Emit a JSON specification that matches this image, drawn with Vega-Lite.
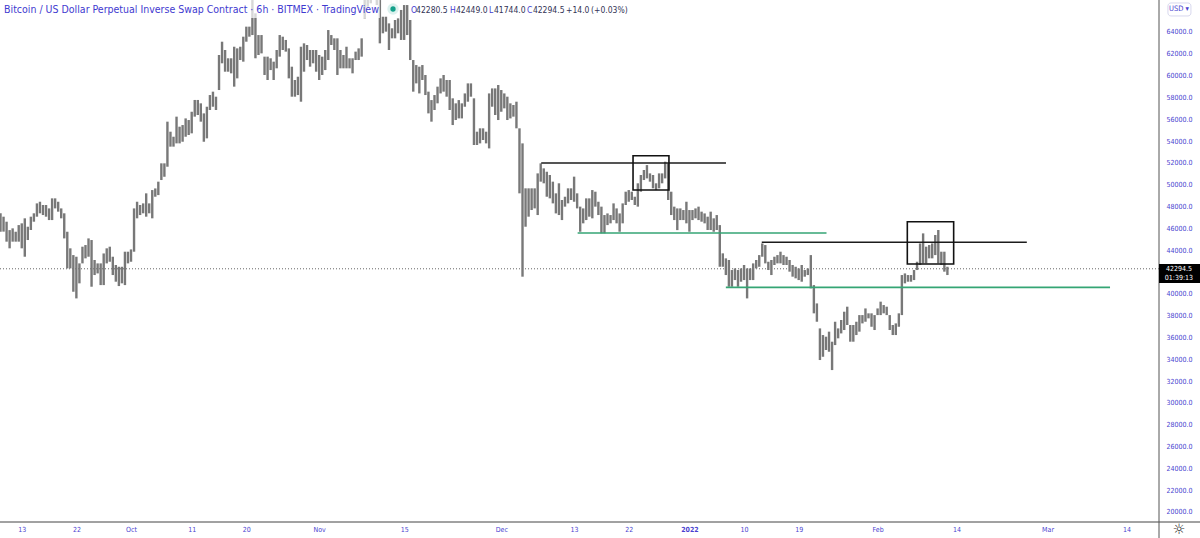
{
"$schema":"https://vega.github.io/schema/vega-lite/v6.json",
"width":1159,"height":522,
"autosize":"none",
"padding":{"left":0,"top":0,"right":41,"bottom":16},
"background":"white",
"config":{"view":{"stroke":null},"axis":{"grid":false},"text":{"font":"DejaVu Sans Condensed"}},
"datasets":{
"bars":[
{"t":"2021-09-09T12:00Z","h":47380,"l":45700},{"t":"2021-09-10T00:00Z","h":47070,"l":45700},{"t":"2021-09-10T12:00Z","h":46610,"l":44780},{"t":"2021-09-11T00:00Z","h":45840,"l":44170},{"t":"2021-09-11T12:00Z","h":46000,"l":44780},{"t":"2021-09-12T00:00Z","h":45690,"l":44780},{"t":"2021-09-12T12:00Z","h":46300,"l":44780},{"t":"2021-09-13T00:00Z","h":46460,"l":44170},{"t":"2021-09-13T12:00Z","h":46920,"l":43400},{"t":"2021-09-14T00:00Z","h":46150,"l":44930},
{"t":"2021-09-14T12:00Z","h":47070,"l":45850},{"t":"2021-09-15T00:00Z","h":47380,"l":46610},{"t":"2021-09-15T12:00Z","h":48290,"l":47070},{"t":"2021-09-16T00:00Z","h":48440,"l":47380},{"t":"2021-09-16T12:00Z","h":48140,"l":47220},{"t":"2021-09-17T00:00Z","h":48140,"l":47070},{"t":"2021-09-17T12:00Z","h":47830,"l":46760},{"t":"2021-09-18T00:00Z","h":48750,"l":46760},{"t":"2021-09-18T12:00Z","h":48750,"l":47830},{"t":"2021-09-19T00:00Z","h":48440,"l":47530},
{"t":"2021-09-19T12:00Z","h":47830,"l":46920},{"t":"2021-09-20T00:00Z","h":47380,"l":45080},{"t":"2021-09-20T12:00Z","h":45690,"l":42330},{"t":"2021-09-21T00:00Z","h":44170,"l":42330},{"t":"2021-09-21T12:00Z","h":43550,"l":40190},{"t":"2021-09-22T00:00Z","h":43400,"l":39580},{"t":"2021-09-22T12:00Z","h":42790,"l":40960},{"t":"2021-09-23T00:00Z","h":44320,"l":42790},{"t":"2021-09-23T12:00Z","h":44470,"l":43250},{"t":"2021-09-24T00:00Z","h":45080,"l":43400},
{"t":"2021-09-24T12:00Z","h":44930,"l":40650},{"t":"2021-09-25T00:00Z","h":43100,"l":41720},{"t":"2021-09-25T12:00Z","h":42790,"l":41870},{"t":"2021-09-26T00:00Z","h":42790,"l":40800},{"t":"2021-09-26T12:00Z","h":43700,"l":40800},{"t":"2021-09-27T00:00Z","h":44170,"l":42790},{"t":"2021-09-27T12:00Z","h":44320,"l":42940},{"t":"2021-09-28T00:00Z","h":43400,"l":41720},{"t":"2021-09-28T12:00Z","h":42640,"l":41110},{"t":"2021-09-29T00:00Z","h":42480,"l":40710},
{"t":"2021-09-29T12:00Z","h":42480,"l":40960},{"t":"2021-09-30T00:00Z","h":43860,"l":40800},{"t":"2021-09-30T12:00Z","h":43860,"l":42790},{"t":"2021-10-01T00:00Z","h":44070,"l":42940},{"t":"2021-10-01T12:00Z","h":47830,"l":43860},{"t":"2021-10-02T00:00Z","h":48440,"l":46920},{"t":"2021-10-02T12:00Z","h":48140,"l":47220},{"t":"2021-10-03T00:00Z","h":48290,"l":47380},{"t":"2021-10-03T12:00Z","h":49210,"l":47070},{"t":"2021-10-04T00:00Z","h":48290,"l":47380},
{"t":"2021-10-04T12:00Z","h":49510,"l":46920},{"t":"2021-10-05T00:00Z","h":49660,"l":48900},{"t":"2021-10-05T12:00Z","h":50280,"l":49050},{"t":"2021-10-06T00:00Z","h":51960,"l":50430},{"t":"2021-10-06T12:00Z","h":51960,"l":50730},{"t":"2021-10-07T00:00Z","h":55780,"l":51650},{"t":"2021-10-07T12:00Z","h":54860,"l":53490},{"t":"2021-10-08T00:00Z","h":54400,"l":53490},{"t":"2021-10-08T12:00Z","h":56240,"l":53790},{"t":"2021-10-09T00:00Z","h":55320,"l":53790},
{"t":"2021-10-09T12:00Z","h":55470,"l":53940},{"t":"2021-10-10T00:00Z","h":56080,"l":54400},{"t":"2021-10-10T12:00Z","h":55930,"l":54560},{"t":"2021-10-11T00:00Z","h":56690,"l":54710},{"t":"2021-10-11T12:00Z","h":57770,"l":56240},{"t":"2021-10-12T00:00Z","h":57770,"l":56390},{"t":"2021-10-12T12:00Z","h":57460,"l":55780},{"t":"2021-10-13T00:00Z","h":56540,"l":53940},{"t":"2021-10-13T12:00Z","h":57150,"l":54250},{"t":"2021-10-14T00:00Z","h":58220,"l":56850},
{"t":"2021-10-14T12:00Z","h":58530,"l":57150},{"t":"2021-10-15T00:00Z","h":58070,"l":56850},{"t":"2021-10-15T12:00Z","h":61890,"l":58680},{"t":"2021-10-16T00:00Z","h":63110,"l":61130},{"t":"2021-10-16T12:00Z","h":62350,"l":60360},{"t":"2021-10-17T00:00Z","h":61590,"l":60360},{"t":"2021-10-17T12:00Z","h":61590,"l":60210},{"t":"2021-10-18T00:00Z","h":62650,"l":58990},{"t":"2021-10-18T12:00Z","h":62500,"l":59750},{"t":"2021-10-19T00:00Z","h":62650,"l":61430},
{"t":"2021-10-19T12:00Z","h":63570,"l":61280},{"t":"2021-10-20T00:00Z","h":64490,"l":63110},{"t":"2021-10-20T12:00Z","h":64490,"l":63570},{"t":"2021-10-21T00:00Z","h":66930,"l":63720},{"t":"2021-10-21T12:00Z","h":65710,"l":61590},{"t":"2021-10-22T00:00Z","h":63720,"l":61890},{"t":"2021-10-22T12:00Z","h":63720,"l":62040},{"t":"2021-10-23T00:00Z","h":61740,"l":60060},{"t":"2021-10-23T12:00Z","h":61740,"l":59600},{"t":"2021-10-24T00:00Z","h":61590,"l":60510},
{"t":"2021-10-24T12:00Z","h":61280,"l":59600},{"t":"2021-10-25T00:00Z","h":62350,"l":60670},{"t":"2021-10-25T12:00Z","h":63720,"l":61740},{"t":"2021-10-26T00:00Z","h":63570,"l":62350},{"t":"2021-10-26T12:00Z","h":63270,"l":62200},{"t":"2021-10-27T00:00Z","h":62500,"l":59750},{"t":"2021-10-27T12:00Z","h":60820,"l":58070},{"t":"2021-10-28T00:00Z","h":59600,"l":58070},{"t":"2021-10-28T12:00Z","h":59900,"l":58220},{"t":"2021-10-29T00:00Z","h":62650,"l":57610},
{"t":"2021-10-29T12:00Z","h":62960,"l":60360},{"t":"2021-10-30T00:00Z","h":62810,"l":61430},{"t":"2021-10-30T12:00Z","h":62350,"l":60820},{"t":"2021-10-31T00:00Z","h":62350,"l":61130},{"t":"2021-10-31T12:00Z","h":62350,"l":60360},{"t":"2021-11-01T00:00Z","h":61890,"l":59600},{"t":"2021-11-01T12:00Z","h":61740,"l":60060},{"t":"2021-11-02T00:00Z","h":62350,"l":60510},{"t":"2021-11-02T12:00Z","h":64180,"l":61430},{"t":"2021-11-03T00:00Z","h":63720,"l":62810},
{"t":"2021-11-03T12:00Z","h":63420,"l":62350},{"t":"2021-11-04T00:00Z","h":63420,"l":60060},{"t":"2021-11-04T12:00Z","h":62350,"l":60670},{"t":"2021-11-05T00:00Z","h":61890,"l":60670},{"t":"2021-11-05T12:00Z","h":62650,"l":60670},{"t":"2021-11-06T00:00Z","h":61590,"l":60670},{"t":"2021-11-06T12:00Z","h":61590,"l":60210},{"t":"2021-11-07T00:00Z","h":62200,"l":61430},{"t":"2021-11-07T12:00Z","h":62500,"l":61430},{"t":"2021-11-08T00:00Z","h":63420,"l":61740},
{"t":"2021-11-08T12:00Z","h":67090,"l":65250},{"t":"2021-11-09T00:00Z","h":68150,"l":66320},{"t":"2021-11-09T12:00Z","h":68460,"l":66630},{"t":"2021-11-10T00:00Z","h":68460,"l":67240},{"t":"2021-11-10T12:00Z","h":68150,"l":66470},{"t":"2021-11-11T00:00Z","h":66930,"l":62960},{"t":"2021-11-11T12:00Z","h":65400,"l":63880},{"t":"2021-11-12T00:00Z","h":65400,"l":64030},{"t":"2021-11-12T12:00Z","h":64790,"l":62350},{"t":"2021-11-13T00:00Z","h":64340,"l":63420},
{"t":"2021-11-13T12:00Z","h":65100,"l":63420},{"t":"2021-11-14T00:00Z","h":65250,"l":63880},{"t":"2021-11-14T12:00Z","h":66020,"l":63270},{"t":"2021-11-15T00:00Z","h":66470,"l":63270},{"t":"2021-11-15T12:00Z","h":66470,"l":63720},{"t":"2021-11-16T00:00Z","h":65100,"l":61430},{"t":"2021-11-16T12:00Z","h":61430,"l":58530},{"t":"2021-11-17T00:00Z","h":60970,"l":59290},{"t":"2021-11-17T12:00Z","h":60820,"l":58370},{"t":"2021-11-18T00:00Z","h":60970,"l":59600},
{"t":"2021-11-18T12:00Z","h":60060,"l":58220},{"t":"2021-11-19T00:00Z","h":58530,"l":56540},{"t":"2021-11-19T12:00Z","h":57760,"l":55780},{"t":"2021-11-20T00:00Z","h":58220,"l":56850},{"t":"2021-11-20T12:00Z","h":58990,"l":57460},{"t":"2021-11-21T00:00Z","h":59750,"l":58370},{"t":"2021-11-21T12:00Z","h":60060,"l":58530},{"t":"2021-11-22T00:00Z","h":59600,"l":58070},{"t":"2021-11-22T12:00Z","h":59600,"l":56850},{"t":"2021-11-23T00:00Z","h":57920,"l":55470},
{"t":"2021-11-23T12:00Z","h":57460,"l":55930},{"t":"2021-11-24T00:00Z","h":57760,"l":56080},{"t":"2021-11-24T12:00Z","h":57460,"l":56080},{"t":"2021-11-25T00:00Z","h":58370,"l":57150},{"t":"2021-11-25T12:00Z","h":59290,"l":57610},{"t":"2021-11-26T00:00Z","h":59290,"l":58070},{"t":"2021-11-26T12:00Z","h":57920,"l":53640},{"t":"2021-11-27T00:00Z","h":54860,"l":53640},{"t":"2021-11-27T12:00Z","h":55170,"l":53790},{"t":"2021-11-28T00:00Z","h":55170,"l":54100},
{"t":"2021-11-28T12:00Z","h":54860,"l":53790},{"t":"2021-11-29T00:00Z","h":58370,"l":53330},{"t":"2021-11-29T12:00Z","h":58830,"l":57150},{"t":"2021-11-30T00:00Z","h":58830,"l":56390},{"t":"2021-11-30T12:00Z","h":59140,"l":55930},{"t":"2021-12-01T00:00Z","h":58680,"l":56690},{"t":"2021-12-01T12:00Z","h":58370,"l":57000},{"t":"2021-12-02T00:00Z","h":58070,"l":55930},{"t":"2021-12-02T12:00Z","h":57460,"l":56080},{"t":"2021-12-03T00:00Z","h":57310,"l":56240},
{"t":"2021-12-03T12:00Z","h":57610,"l":55170},{"t":"2021-12-04T00:00Z","h":55170,"l":49210},{"t":"2021-12-04T12:00Z","h":53790,"l":41570},{"t":"2021-12-05T00:00Z","h":49670,"l":46150},{"t":"2021-12-05T12:00Z","h":49670,"l":47070},{"t":"2021-12-06T00:00Z","h":49670,"l":47680},{"t":"2021-12-06T12:00Z","h":49670,"l":47830},{"t":"2021-12-07T00:00Z","h":51040,"l":47220},{"t":"2021-12-07T12:00Z","h":51960,"l":50280},{"t":"2021-12-08T00:00Z","h":51500,"l":50130},
{"t":"2021-12-08T12:00Z","h":51190,"l":48900},{"t":"2021-12-09T00:00Z","h":50890,"l":48750},{"t":"2021-12-09T12:00Z","h":50280,"l":48290},{"t":"2021-12-10T00:00Z","h":49210,"l":47370},{"t":"2021-12-10T12:00Z","h":50130,"l":47220},{"t":"2021-12-11T00:00Z","h":48600,"l":46760},{"t":"2021-12-11T12:00Z","h":48900,"l":47990},{"t":"2021-12-12T00:00Z","h":49670,"l":48290},{"t":"2021-12-12T12:00Z","h":49670,"l":48600},{"t":"2021-12-13T00:00Z","h":50740,"l":48440},
{"t":"2021-12-13T12:00Z","h":49210,"l":47830},{"t":"2021-12-14T00:00Z","h":47990,"l":45690},{"t":"2021-12-14T12:00Z","h":47830,"l":46460},{"t":"2021-12-15T00:00Z","h":48750,"l":46760},{"t":"2021-12-15T12:00Z","h":48750,"l":47070},{"t":"2021-12-16T00:00Z","h":49510,"l":46920},{"t":"2021-12-16T12:00Z","h":49360,"l":47990},{"t":"2021-12-17T00:00Z","h":48440,"l":47220},{"t":"2021-12-17T12:00Z","h":47990,"l":45540},{"t":"2021-12-18T00:00Z","h":47220,"l":45540},
{"t":"2021-12-18T12:00Z","h":47370,"l":46300},{"t":"2021-12-19T00:00Z","h":47220,"l":46460},{"t":"2021-12-19T12:00Z","h":48290,"l":46760},{"t":"2021-12-20T00:00Z","h":47830,"l":46460},{"t":"2021-12-20T12:00Z","h":47370,"l":45690},{"t":"2021-12-21T00:00Z","h":48290,"l":46460},{"t":"2021-12-21T12:00Z","h":49360,"l":48140},{"t":"2021-12-22T00:00Z","h":49510,"l":48440},{"t":"2021-12-22T12:00Z","h":49360,"l":48600},{"t":"2021-12-23T00:00Z","h":48900,"l":48140},
{"t":"2021-12-23T12:00Z","h":50130,"l":47990},{"t":"2021-12-24T00:00Z","h":50890,"l":49360},{"t":"2021-12-24T12:00Z","h":51350,"l":50430},{"t":"2021-12-25T00:00Z","h":51800,"l":50580},{"t":"2021-12-25T12:00Z","h":51040,"l":50280},{"t":"2021-12-26T00:00Z","h":50890,"l":49670},{"t":"2021-12-26T12:00Z","h":50130,"l":49510},{"t":"2021-12-27T00:00Z","h":51040,"l":49670},{"t":"2021-12-27T12:00Z","h":51040,"l":50130},{"t":"2021-12-28T00:00Z","h":52110,"l":50580},
{"t":"2021-12-28T12:00Z","h":51960,"l":48600},{"t":"2021-12-29T00:00Z","h":49360,"l":47220},{"t":"2021-12-29T12:00Z","h":47990,"l":46760},{"t":"2021-12-30T00:00Z","h":47830,"l":45840},{"t":"2021-12-30T12:00Z","h":47830,"l":46760},{"t":"2021-12-31T00:00Z","h":47680,"l":46760},{"t":"2021-12-31T12:00Z","h":48440,"l":46460},{"t":"2022-01-01T00:00Z","h":47680,"l":45690},{"t":"2022-01-01T12:00Z","h":47680,"l":46760},{"t":"2022-01-02T00:00Z","h":47830,"l":46920},
{"t":"2022-01-02T12:00Z","h":47990,"l":46760},{"t":"2022-01-03T00:00Z","h":47530,"l":46610},{"t":"2022-01-03T12:00Z","h":47370,"l":46460},{"t":"2022-01-04T00:00Z","h":47070,"l":45850},{"t":"2022-01-04T12:00Z","h":47530,"l":45850},{"t":"2022-01-05T00:00Z","h":46920,"l":45690},{"t":"2022-01-05T12:00Z","h":47220,"l":45850},{"t":"2022-01-06T00:00Z","h":46300,"l":42480},{"t":"2022-01-06T12:00Z","h":43710,"l":42480},{"t":"2022-01-07T00:00Z","h":43250,"l":41720},
{"t":"2022-01-07T12:00Z","h":43100,"l":40650},{"t":"2022-01-08T00:00Z","h":42180,"l":40650},{"t":"2022-01-08T12:00Z","h":42330,"l":41260},{"t":"2022-01-09T00:00Z","h":42180,"l":40650},{"t":"2022-01-09T12:00Z","h":42330,"l":41110},{"t":"2022-01-10T00:00Z","h":42640,"l":41260},{"t":"2022-01-10T12:00Z","h":42330,"l":39580},{"t":"2022-01-11T00:00Z","h":42330,"l":41260},{"t":"2022-01-11T12:00Z","h":42790,"l":41260},{"t":"2022-01-12T00:00Z","h":43100,"l":42330},
{"t":"2022-01-12T12:00Z","h":43550,"l":42480},{"t":"2022-01-13T00:00Z","h":44620,"l":43400},{"t":"2022-01-13T12:00Z","h":44470,"l":42790},{"t":"2022-01-14T00:00Z","h":42940,"l":42180},{"t":"2022-01-14T12:00Z","h":43100,"l":41720},{"t":"2022-01-15T00:00Z","h":43400,"l":42640},{"t":"2022-01-15T12:00Z","h":43550,"l":42790},{"t":"2022-01-16T00:00Z","h":43860,"l":42790},{"t":"2022-01-16T12:00Z","h":43550,"l":42640},{"t":"2022-01-17T00:00Z","h":43400,"l":42640},
{"t":"2022-01-17T12:00Z","h":43100,"l":42030},{"t":"2022-01-18T00:00Z","h":42640,"l":41570},{"t":"2022-01-18T12:00Z","h":42480,"l":41420},{"t":"2022-01-19T00:00Z","h":42330,"l":41260},{"t":"2022-01-19T12:00Z","h":42640,"l":41110},{"t":"2022-01-20T00:00Z","h":42180,"l":41570},{"t":"2022-01-20T12:00Z","h":42330,"l":41720},{"t":"2022-01-21T00:00Z","h":43550,"l":40500},{"t":"2022-01-21T12:00Z","h":40800,"l":38210},{"t":"2022-01-22T00:00Z","h":39120,"l":37440},
{"t":"2022-01-22T12:00Z","h":36830,"l":33930},{"t":"2022-01-23T00:00Z","h":36220,"l":34230},{"t":"2022-01-23T12:00Z","h":36070,"l":34850},{"t":"2022-01-24T00:00Z","h":36530,"l":34690},{"t":"2022-01-24T12:00Z","h":35610,"l":33010},{"t":"2022-01-25T00:00Z","h":37440,"l":35300},{"t":"2022-01-25T12:00Z","h":36830,"l":35920},{"t":"2022-01-26T00:00Z","h":37600,"l":36370},{"t":"2022-01-26T12:00Z","h":38360,"l":36680},{"t":"2022-01-27T00:00Z","h":38820,"l":37140},
{"t":"2022-01-27T12:00Z","h":37140,"l":35610},{"t":"2022-01-28T00:00Z","h":37140,"l":35610},{"t":"2022-01-28T12:00Z","h":37440,"l":36220},{"t":"2022-01-29T00:00Z","h":38050,"l":36530},{"t":"2022-01-29T12:00Z","h":38050,"l":37290},{"t":"2022-01-30T00:00Z","h":38660,"l":37440},{"t":"2022-01-30T12:00Z","h":38210,"l":37750},{"t":"2022-01-31T00:00Z","h":38210,"l":36980},{"t":"2022-01-31T12:00Z","h":38050,"l":36680},{"t":"2022-02-01T00:00Z","h":38660,"l":38050},
{"t":"2022-02-01T12:00Z","h":39280,"l":38050},{"t":"2022-02-02T00:00Z","h":38970,"l":38210},{"t":"2022-02-02T12:00Z","h":38820,"l":38050},{"t":"2022-02-03T00:00Z","h":38050,"l":36680},{"t":"2022-02-03T12:00Z","h":37140,"l":36220},{"t":"2022-02-04T00:00Z","h":37290,"l":36220},{"t":"2022-02-04T12:00Z","h":38210,"l":36980},{"t":"2022-02-05T00:00Z","h":41720,"l":38050},{"t":"2022-02-05T12:00Z","h":41870,"l":40960},{"t":"2022-02-06T00:00Z","h":41720,"l":41110},
{"t":"2022-02-06T12:00Z","h":41720,"l":41110},{"t":"2022-02-07T00:00Z","h":42180,"l":41260},{"t":"2022-02-07T12:00Z","h":42940,"l":42180},{"t":"2022-02-08T00:00Z","h":44620,"l":42640},{"t":"2022-02-08T12:00Z","h":45540,"l":42790},{"t":"2022-02-09T00:00Z","h":44320,"l":42790},{"t":"2022-02-09T12:00Z","h":44470,"l":43250},{"t":"2022-02-10T00:00Z","h":44620,"l":43250},{"t":"2022-02-10T12:00Z","h":45390,"l":43550},{"t":"2022-02-11T00:00Z","h":45850,"l":42790},
{"t":"2022-02-11T12:00Z","h":43860,"l":42640},{"t":"2022-02-12T00:00Z","h":43860,"l":42030},{"t":"2022-02-12T12:00Z","h":42480,"l":41720}
],
"levels":[
{"a":"2021-12-07T14:00Z","b":"2022-01-07T00:30Z","p":51990,"kind":"resistance"},
{"a":"2022-01-12T22:00Z","b":"2022-02-25T14:00Z","p":44720,"kind":"resistance"},
{"a":"2021-12-13T14:00Z","b":"2022-01-23T14:00Z","p":45574,"kind":"support"},
{"a":"2022-01-07T00:00Z","b":"2022-03-11T07:00Z","p":40590,"kind":"support"}
],
"boxes":[
{"a":"2021-12-22T17:00Z","b":"2021-12-28T15:00Z","top":52650,"bot":49516},
{"a":"2022-02-05T21:30Z","b":"2022-02-13T12:45Z","top":46610,"bot":42732}
],
"header":[{"t":"2021-09-10T02:00Z","p":66060,"label":"Bitcoin / US Dollar Perpetual Inverse Swap Contract · 6h · BITMEX · TradingView"}],
"ohlcKeys":[
{"t":"2021-11-16T03:00Z","p":66060,"label":"O"},{"t":"2021-11-22T13:00Z","p":66060,"label":"H"},{"t":"2021-11-28T23:30Z","p":66060,"label":"L"},{"t":"2021-12-05T06:00Z","p":66060,"label":"C"}
],
"ohlcVals":[
{"t":"2021-11-16T23:00Z","p":66060,"label":"42280.5"},{"t":"2021-11-23T13:00Z","p":66060,"label":"42449.0"},{"t":"2021-11-29T19:00Z","p":66060,"label":"41744.0"},{"t":"2021-12-06T05:00Z","p":66060,"label":"42294.5"},{"t":"2021-12-11T16:00Z","p":66060,"label":"+14.0"},{"t":"2021-12-15T19:00Z","p":66060,"label":"(+0.03%)"}
]
},
"encoding":{
 "x":{"type":"temporal","title":null,"scale":{"type":"utc","domain":["2021-09-09T10:00:00Z","2022-03-19T08:40:00Z"]},
  "axis":{"orient":"bottom","domain":false,"ticks":false,"labelColor":"#4a3fd0","labelFont":"DejaVu Sans Condensed","labelFontSize":7,"labelPadding":3,"labelOverlap":false,"labelBound":false,"labelFlush":false,
  "labelFontWeight":{"condition":{"test":"utcmonth(datum.value)==0 && utcdate(datum.value)==1","value":"bold"},"value":"normal"},
  "values":["2021-09-13T00:00:00Z","2021-09-22T00:00:00Z","2021-10-01T00:00:00Z","2021-10-11T00:00:00Z","2021-10-20T00:00:00Z","2021-11-01T00:00:00Z","2021-11-15T00:00:00Z","2021-12-01T00:00:00Z","2021-12-13T00:00:00Z","2021-12-22T00:00:00Z","2022-01-01T00:00:00Z","2022-01-10T00:00:00Z","2022-01-19T00:00:00Z","2022-02-01T00:00:00Z","2022-02-14T00:00:00Z","2022-03-01T00:00:00Z","2022-03-14T00:00:00Z"],
  "labelExpr":"utcdate(datum.value)==1 ? (utcmonth(datum.value)==0 ? '2022' : utcFormat(datum.value,'%b')) : utcFormat(datum.value,'%d')"}},
 "y":{"type":"quantitative","title":null,"scale":{"domain":[19083,66933],"nice":false,"zero":false},
  "axis":{"orient":"right","domain":false,"ticks":false,"labelColor":"#4a3fd0","labelFont":"DejaVu Sans Condensed","labelFontSize":7,"labelPadding":7,"labelAlign":"left","format":".1f","labelOverlap":false,"labelBound":false,"labelFlush":false,
  "values":[20000,22000,24000,26000,28000,30000,32000,34000,36000,38000,40000,44000,46000,48000,50000,52000,54000,56000,58000,60000,62000,64000]}}
},
"layer":[
{"data":{"values":[{"a":"2021-09-09T10:00:00Z","b":"2022-03-19T08:40:00Z","last":42294.5}]},"mark":{"type":"rule","color":"#666666","strokeWidth":1,"strokeDash":[1,2]},
 "encoding":{"x":{"field":"a"},"x2":{"field":"b"},"y":{"field":"last"}}},
{"data":{"name":"bars"},"mark":{"type":"rule","color":"#787878","strokeWidth":2.4},
 "encoding":{"x":{"field":"t"},"y":{"field":"h"},"y2":{"field":"l"}}},
{"data":{"name":"levels"},"transform":[{"filter":"datum.kind=='resistance'"}],"mark":{"type":"rule","color":"#1c1c1c","strokeWidth":1.6},
 "encoding":{"x":{"field":"a"},"x2":{"field":"b"},"y":{"field":"p"}}},
{"data":{"name":"levels"},"transform":[{"filter":"datum.kind=='support'"}],"mark":{"type":"rule","color":"#35a574","strokeWidth":1.6},
 "encoding":{"x":{"field":"a"},"x2":{"field":"b"},"y":{"field":"p"}}},
{"data":{"name":"boxes"},"mark":{"type":"rect","fill":null,"stroke":"#111111","strokeWidth":1.6},
 "encoding":{"x":{"field":"a"},"x2":{"field":"b"},"y":{"field":"top"},"y2":{"field":"bot"}}},
{"data":{"values":[{"a":"2021-09-09T10:00:00Z","b":"2021-11-11T00:00:00Z","top":66933,"bot":65283}]},"mark":{"type":"rect","fill":"white","opacity":0.7},
 "encoding":{"x":{"field":"a"},"x2":{"field":"b"},"y":{"field":"top"},"y2":{"field":"bot"}}},
{"data":{"values":[{"a":"2021-09-09T10:00:00Z","b":"2022-03-26T03:00:00Z","p":19083}]},"mark":{"type":"rule","color":"#444444","strokeWidth":1},
 "encoding":{"x":{"field":"a"},"x2":{"field":"b"},"y":{"field":"p"}}},
{"data":{"values":[{"t":"2022-03-19T08:40:00Z","top":66933,"bot":17615}]},"mark":{"type":"rule","color":"#555555","strokeWidth":1},
 "encoding":{"x":{"field":"t"},"y":{"field":"top"},"y2":{"field":"bot"}}},
{"data":{"name":"header"},"mark":{"type":"text","align":"left","baseline":"middle","font":"DejaVu Sans Condensed","fontSize":10.5,"color":"#3f3ad0"},
 "encoding":{"x":{"field":"t"},"y":{"field":"p"},"text":{"field":"label"}}},
{"data":{"name":"ohlcKeys"},"mark":{"type":"text","align":"left","baseline":"middle","fontSize":8.5,"color":"#3f3ad0"},
 "encoding":{"x":{"field":"t"},"y":{"field":"p"},"text":{"field":"label"}}},
{"data":{"name":"ohlcVals"},"mark":{"type":"text","align":"left","baseline":"middle","fontSize":8.5,"color":"#333355"},
 "encoding":{"x":{"field":"t"},"y":{"field":"p"},"text":{"field":"label"}}},
{"data":{"values":[{"t":"2021-11-13T04:00:00Z","p":66108}]},"mark":{"type":"point","filled":true,"color":"#13a08a","size":130,"opacity":0.15},
 "encoding":{"x":{"field":"t"},"y":{"field":"p"}}},
{"data":{"values":[{"t":"2021-11-13T04:00:00Z","p":66108}]},"mark":{"type":"point","filled":true,"color":"#13a08a","size":28,"opacity":1},
 "encoding":{"x":{"field":"t"},"y":{"field":"p"}}},
{"data":{"values":[{"a":"2022-03-20T20:00:00Z","b":"2022-03-24T15:00:00Z","top":66660,"bot":65470}]},"mark":{"type":"rect","fill":"white","stroke":"#d8d8ee","strokeWidth":1,"cornerRadius":3},
 "encoding":{"x":{"field":"a"},"x2":{"field":"b"},"y":{"field":"top"},"y2":{"field":"bot"}}},
{"data":{"values":[{"t":"2022-03-22T15:40:00Z","p":66070,"label":"USD ▾"}]},"mark":{"type":"text","baseline":"middle","fontSize":7.5,"color":"#4a3fd0"},
 "encoding":{"x":{"field":"t"},"y":{"field":"p"},"text":{"field":"label"}}},
{"data":{"values":[{"a":"2022-03-19T08:40:00Z","b":"2022-03-26T03:00:00Z","top":42732,"bot":41000}]},"mark":{"type":"rect","fill":"black"},
 "encoding":{"x":{"field":"a"},"x2":{"field":"b"},"y":{"field":"top"},"y2":{"field":"bot"}}},
{"data":{"values":[{"t":"2022-03-22T15:40:00Z","p":42294.5,"label":"42294.5"},{"t":"2022-03-22T15:40:00Z","p":41449,"label":"01:39:13"}]},"mark":{"type":"text","baseline":"middle","fontSize":7,"color":"white"},
 "encoding":{"x":{"field":"t"},"y":{"field":"p"},"text":{"field":"label"}}},
{"data":{"values":[{"t":"2022-03-22T15:40:00Z","p":18348,"label":"☼"}]},"mark":{"type":"text","baseline":"middle","font":"DejaVu Sans","fontSize":14,"color":"#222222"},
 "encoding":{"x":{"field":"t"},"y":{"field":"p"},"text":{"field":"label"}}}
]
}
